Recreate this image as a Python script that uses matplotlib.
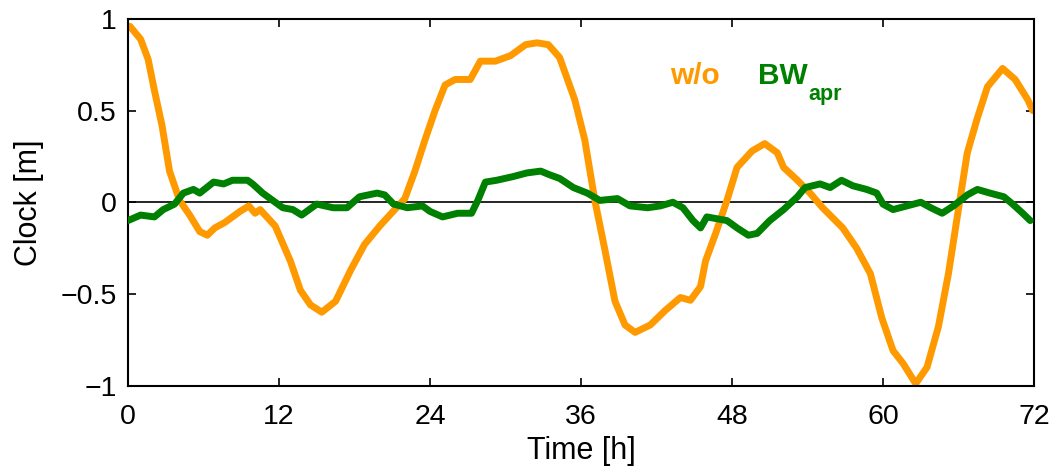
import matplotlib
matplotlib.use("Agg")
import matplotlib.pyplot as plt

# ---- data ----
t_wo = [0.15, 1.0, 1.6, 2.1, 2.7, 3.3, 4.1, 4.9, 5.7, 6.3, 6.9, 7.7, 8.9, 9.6, 10.1, 10.5,
        11.7, 12.9, 13.7, 14.5, 15.4, 16.5, 17.7, 18.8, 20.0, 21.2, 22.0, 22.8, 23.6, 24.4,
        25.2, 26.0, 27.2, 28.0, 29.2, 30.4, 31.6, 32.5, 33.4, 34.3, 35.5, 36.3, 37.1, 37.9,
        38.7, 39.5, 40.3, 41.5, 42.7, 43.9, 44.7, 45.5, 45.9, 46.7, 47.6, 48.4, 49.6, 50.6,
        51.6, 52.1, 53.2, 54.2, 55.2, 56.8, 57.9, 59.0, 59.9, 60.8, 61.6, 62.6, 63.5, 64.4,
        65.2, 65.9, 66.7, 67.5, 68.3, 69.5, 70.5, 71.5, 71.9]
y_wo = [0.96, 0.89, 0.78, 0.61, 0.42, 0.17, 0.01, -0.07, -0.16, -0.18, -0.14, -0.11, -0.05,
        -0.02, -0.06, -0.04, -0.13, -0.32, -0.48, -0.56, -0.60, -0.54, -0.37, -0.23, -0.13,
        -0.04, 0.02, 0.17, 0.34, 0.50, 0.64, 0.67, 0.67, 0.77, 0.77, 0.80, 0.86, 0.87, 0.86,
        0.79, 0.56, 0.34, 0.01, -0.26, -0.54, -0.67, -0.71, -0.67, -0.59, -0.52, -0.535,
        -0.46, -0.32, -0.17, 0.01, 0.19, 0.28, 0.32, 0.27, 0.19, 0.12, 0.05, -0.03, -0.14,
        -0.25, -0.39, -0.63, -0.81, -0.88, -0.99, -0.90, -0.68, -0.39, -0.08, 0.27, 0.46,
        0.63, 0.73, 0.67, 0.56, 0.50]

t_bw = [0.0, 1.0, 2.1, 2.8, 3.7, 4.4, 5.2, 5.7, 6.8, 7.6, 8.3, 9.5, 9.9, 10.7, 11.5, 12.3,
        13.1, 13.8, 15.0, 16.3, 17.4, 18.4, 19.8, 20.4, 21.1, 22.2, 23.4, 24.0, 25.0, 26.2,
        27.3, 27.8, 28.4, 29.3, 30.6, 31.7, 32.8, 33.5, 34.3, 35.4, 36.5, 37.5, 38.9, 39.9,
        41.3, 42.3, 43.3, 44.1, 44.9, 45.5, 46.0, 46.8, 47.6, 48.4, 49.3, 50.0, 51.0, 52.1,
        53.2, 53.8, 55.0, 55.8, 56.7, 57.6, 58.7, 59.5, 60.0, 60.8, 61.9, 63.0, 63.8, 64.7,
        65.6, 66.7, 67.5, 68.5, 69.6, 70.3, 71.1, 71.7]
y_bw = [-0.10, -0.07, -0.08, -0.04, -0.01, 0.05, 0.07, 0.05, 0.11, 0.10, 0.12, 0.12, 0.10,
        0.05, 0.01, -0.03, -0.04, -0.07, -0.01, -0.03, -0.03, 0.03, 0.05, 0.04, -0.01, -0.03,
        -0.02, -0.05, -0.08, -0.06, -0.06, 0.01, 0.11, 0.12, 0.14, 0.16, 0.17, 0.15, 0.13,
        0.08, 0.05, 0.01, 0.02, -0.02, -0.03, -0.02, 0.00, -0.03, -0.10, -0.14, -0.08, -0.09,
        -0.10, -0.14, -0.18, -0.17, -0.10, -0.04, 0.03, 0.08, 0.10, 0.08, 0.12, 0.09, 0.07,
        0.05, -0.01, -0.04, -0.02, 0.00, -0.03, -0.06, -0.02, 0.04, 0.07, 0.05, 0.03, -0.01,
        -0.06, -0.10]

x_ticks = [0, 12, 24, 36, 48, 60, 72]
y_ticks = [-1, -0.5, 0, 0.5, 1]
y_tick_labels = ["\u22121", "\u22120.5", "0", "0.5", "1"]

ORANGE = "#FF9900"
GREEN = "#008000"

plt.rcParams["font.family"] = ["Liberation Sans", "DejaVu Sans"]

fig = plt.figure(figsize=(10.56, 4.70), dpi=100)
ax = fig.add_axes([128 / 1056, 1 - 385.5 / 470, (1034 - 128) / 1056, (385.5 - 19) / 470])

ax.axhline(0, color="black", lw=1.2, zorder=1)
ax.plot(t_wo, y_wo, color=ORANGE, lw=5, solid_capstyle="round", solid_joinstyle="round", zorder=2)
ax.plot(t_bw, y_bw, color=GREEN, lw=5, solid_capstyle="round", solid_joinstyle="round", zorder=3)

ax.set_xlim(0, 72)
ax.set_ylim(-1, 1)
ax.set_xticks(x_ticks)
ax.set_xticklabels([str(v) for v in x_ticks])
ax.set_yticks(y_ticks)
ax.set_yticklabels(y_tick_labels)
ax.tick_params(direction="in", length=6, width=1.2, labelsize=20.5, top=True, right=True)
ax.tick_params(axis="x", pad=13)
ax.tick_params(axis="y", pad=8)
for s in ax.spines.values():
    s.set_linewidth(1.5)

ax.set_xlabel("Time [h]", fontsize=22, labelpad=5)
ax.set_ylabel("Clock [m]", fontsize=22, labelpad=12)

ax.text(43.1, 0.645, "w/o", color=ORANGE, fontsize=21.5, fontweight="bold", va="baseline", ha="left")
ax.text(50.1, 0.645, "BW", color=GREEN, fontsize=21.5, fontweight="bold", va="baseline", ha="left")
ax.text(54.05, 0.557, "apr", color=GREEN, fontsize=15.5, fontweight="bold", va="baseline", ha="left")

fig.savefig("out.png", dpi=100)
